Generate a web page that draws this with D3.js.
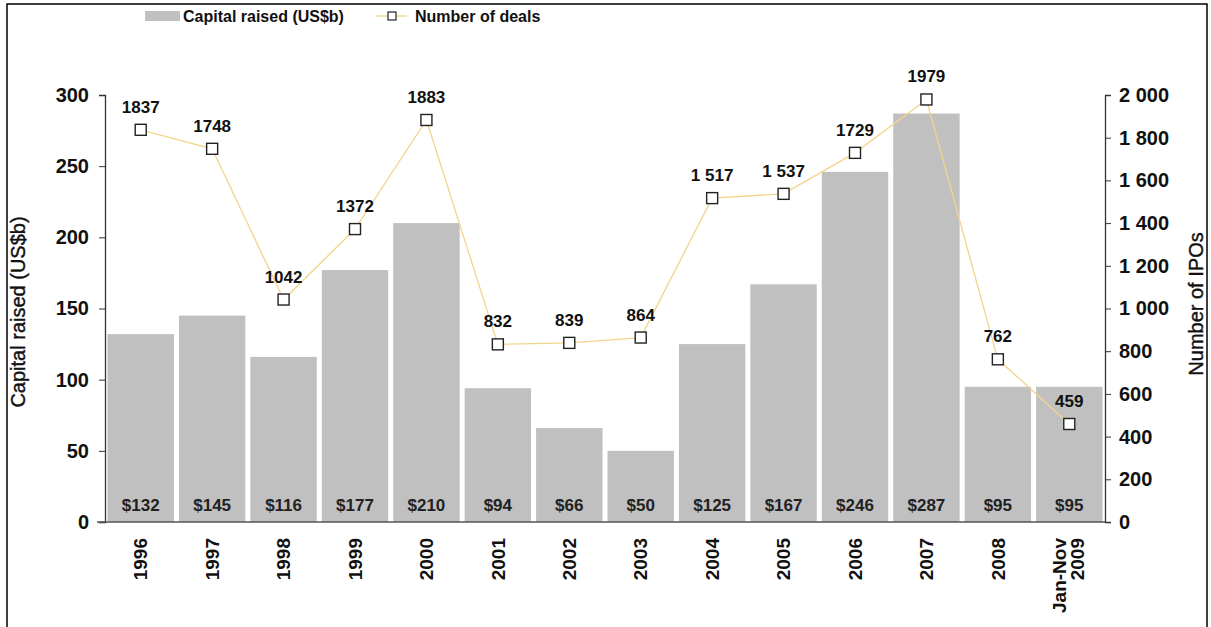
<!DOCTYPE html>
<html><head><meta charset="utf-8">
<script src="https://cdn.jsdelivr.net/npm/d3@7"></script>
<style>body{margin:0;background:#fff;}svg{display:block;font-family:Arial,"Liberation Sans",sans-serif;}</style>
</head><body>
<svg id="c" width="1211" height="627"></svg>
<script>
const categories = ["1996","1997","1998","1999","2000","2001","2002","2003","2004","2005","2006","2007","2008","Jan-Nov|2009"];
const capitalRaised = [132,145,116,177,210,94,66,50,125,167,246,287,95,95];
const numberOfDeals = [1837,1748,1042,1372,1883,832,839,864,1517,1537,1729,1979,762,459];
const dealLabels = ["1837","1748","1042","1372","1883","832","839","864","1 517","1 537","1729","1979","762","459"];
const leftTicks = [0,50,100,150,200,250,300];
const rightTicks = [0,200,400,600,800,1000,1200,1400,1600,1800,2000];
const rightTickLabels = ["0","200","400","600","800","1 000","1 200","1 400","1 600","1 800","2 000"];

const svg = d3.select("#c");
svg.append("rect").attr("x",7).attr("y",4).attr("width",1200).attr("height",640)
  .attr("fill","none").attr("stroke","#000").attr("stroke-width",1.5);

const L=105, R=1105, T=95, B=522;
const x = d3.scaleBand().domain(categories).range([L,R]).paddingInner(0.07).paddingOuter(0.035);
const yL = d3.scaleLinear().domain([0,300]).range([B,T]);
const yR = d3.scaleLinear().domain([0,2000]).range([B,T]);

// bars
svg.append("g").selectAll("rect").data(categories).join("rect")
  .attr("x",d=>x(d)).attr("width",x.bandwidth())
  .attr("y",(d,i)=>yL(capitalRaised[i])).attr("height",(d,i)=>B-yL(capitalRaised[i]))
  .attr("fill","#c0c0c0");
svg.append("g").selectAll("text").data(categories).join("text")
  .attr("x",d=>x(d)+x.bandwidth()/2).attr("y",511)
  .attr("text-anchor","middle").attr("font-size",17).attr("font-weight","bold").attr("fill","#222")
  .text((d,i)=>"$"+capitalRaised[i]);

// axes
const axL = d3.axisLeft(yL).tickValues(leftTicks).tickSize(6).tickPadding(10);
const gL = svg.append("g").attr("transform",`translate(${L},0)`).call(axL);
const axR = d3.axisRight(yR).tickValues(rightTicks).tickSize(6).tickPadding(8).tickFormat((d,i)=>rightTickLabels[i]);
const gR = svg.append("g").attr("transform",`translate(${R},0)`).call(axR);
[gL,gR].forEach(g=>{
  g.select(".domain").attr("stroke","#333").attr("stroke-width",1.3);
  g.selectAll(".tick line").attr("stroke","#333");
  g.selectAll(".tick text").attr("font-size",20).attr("font-weight","bold").attr("fill","#111").attr("font-family","Arial,'Liberation Sans',sans-serif");
});
// x baseline
svg.append("line").attr("x1",L-8).attr("x2",R).attr("y1",B).attr("y2",B).attr("stroke","#555").attr("stroke-width",1.5);

// x labels
const xl = svg.append("g").selectAll("text").data(categories).join("text")
  .attr("transform",d=>`translate(${x(d)+x.bandwidth()/2},538) rotate(-90)`)
  .attr("text-anchor","end").attr("font-size",19).attr("font-weight","bold").attr("fill","#111");
xl.each(function(d){
  const parts=d.split("|"); const t=d3.select(this);
  if(parts.length===1){ t.append("tspan").attr("x",0).attr("dy","0.35em").text(parts[0]); }
  else {
    t.append("tspan").attr("x",0).attr("dy","-0.15em").text(parts[0]);
    t.append("tspan").attr("x",0).attr("dy","0.95em").text(parts[1]);
  }
});

// line
const cx = d=>x(d)+x.bandwidth()/2;
const line = d3.line().x((d,i)=>cx(categories[i])).y(d=>yR(d));
svg.append("path").datum(numberOfDeals).attr("d",line).attr("fill","none").attr("stroke","#f3d48c").attr("stroke-width",1.3);
svg.append("g").selectAll("rect").data(numberOfDeals).join("rect")
  .attr("x",(d,i)=>cx(categories[i])-5.5).attr("y",d=>yR(d)-5.5).attr("width",11).attr("height",11)
  .attr("fill","#fff").attr("stroke","#222").attr("stroke-width",1.4);
svg.append("g").selectAll("text").data(numberOfDeals).join("text")
  .attr("x",(d,i)=>cx(categories[i])).attr("y",d=>yR(d)-17)
  .attr("text-anchor","middle").attr("font-size",17).attr("font-weight","bold").attr("fill","#111")
  .text((d,i)=>dealLabels[i]);

// axis titles
svg.append("text").attr("transform","translate(18,312) rotate(-90)").attr("text-anchor","middle").attr("dy","0.35em")
  .attr("font-size",20).attr("fill","#111").attr("stroke","#111").attr("stroke-width",0.4).text("Capital raised (US$b)");
svg.append("text").attr("transform","translate(1196,304) rotate(-90)").attr("text-anchor","middle").attr("dy","0.35em")
  .attr("font-size",20).attr("fill","#111").attr("stroke","#111").attr("stroke-width",0.4).text("Number of IPOs");

// legend
svg.append("rect").attr("x",145).attr("y",11).attr("width",35).attr("height",10).attr("fill","#c0c0c0");
svg.append("text").attr("x",183).attr("y",22).attr("font-size",16).attr("font-weight","bold").attr("fill","#111").text("Capital raised (US$b)");
svg.append("line").attr("x1",376).attr("x2",407).attr("y1",16).attr("y2",16).attr("stroke","#f3d48c").attr("stroke-width",1.3);
svg.append("rect").attr("x",388).attr("y",12).attr("width",8).attr("height",8).attr("fill","#fff").attr("stroke","#222").attr("stroke-width",1.2);
svg.append("text").attr("x",415).attr("y",22).attr("font-size",16).attr("font-weight","bold").attr("fill","#111").text("Number of deals");
</script>
</body></html>
